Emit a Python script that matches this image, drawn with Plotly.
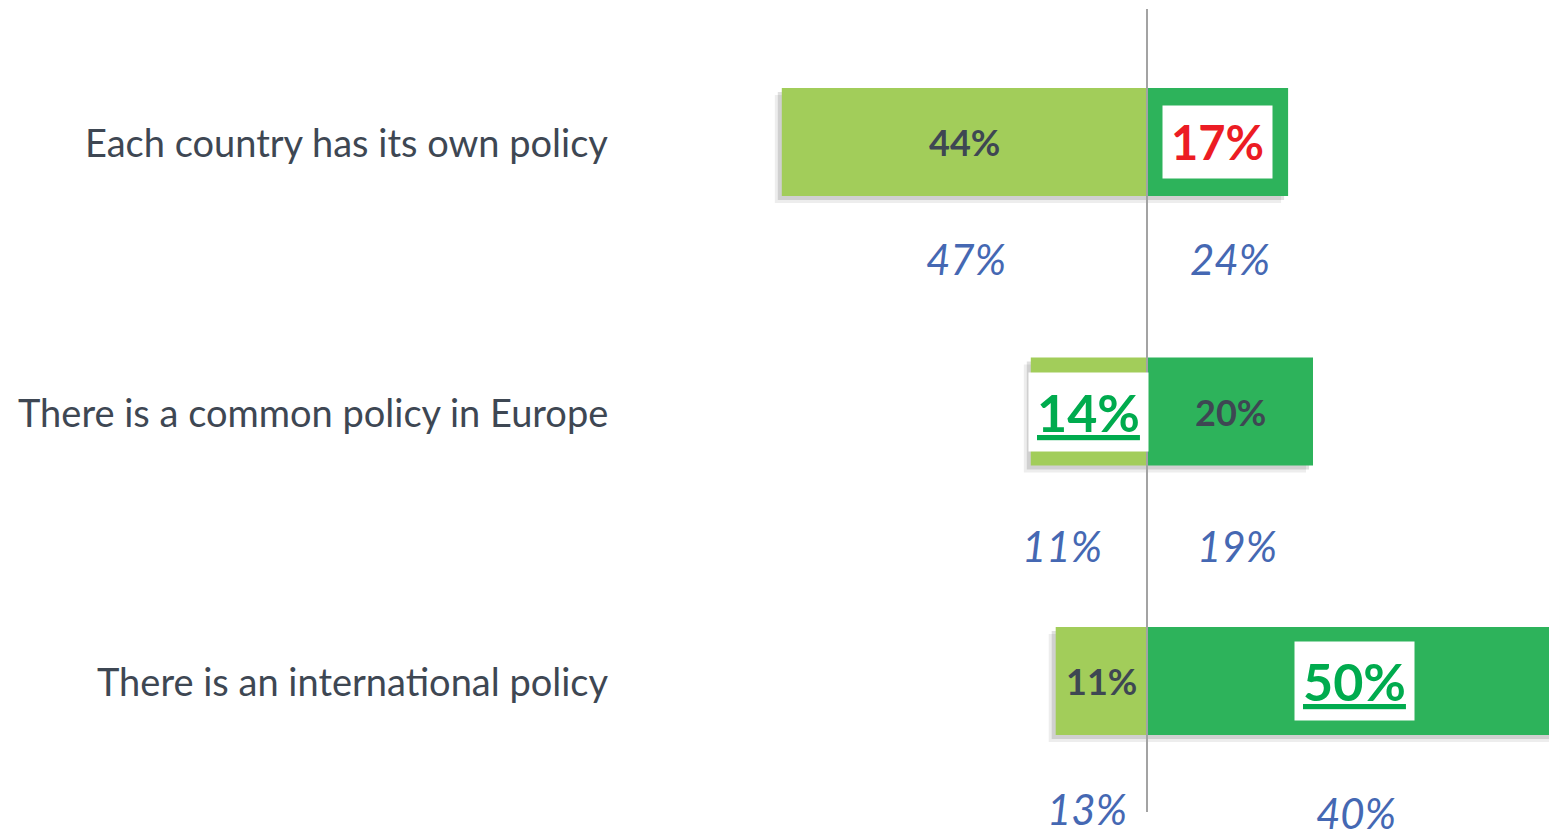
import plotly.graph_objects as go

categories = ["Each country has its own policy", "There is a common policy in Europe", "There is an international policy"]
left_values = [44, 14, 11]
right_values = [17, 20, 50]
prev_left = [47, 11, 13]
prev_right = [24, 19, 40]

LIGHT = "#A2CD5A"
DARK = "#2DB35B"
GREY_TXT = "#3E4753"
BLUE_TXT = "#4568B3"
RED_TXT = "#EC1C24"
GREEN_TXT = "#00AB4E"
FONT = "Lato"

PX_PER_PCT = 8.3
ROW_PX = 269.5
BAR_W = 0.4

ypos = list(range(len(categories)))

fig = go.Figure()
# soft drop shadow (two layers)
for dx, dy, a in ((7, 7, 0.07), (4, 4, 0.12)):
    fig.add_trace(go.Bar(
        y=ypos, x=[l + r for l, r in zip(left_values, right_values)],
        base=[-l - dx / PX_PER_PCT for l in left_values],
        orientation="h", width=BAR_W, offset=-BAR_W / 2 + dy / ROW_PX,
        marker=dict(color=f"rgba(0,0,0,{a})", line=dict(width=0)), hoverinfo="skip"))
fig.add_trace(go.Bar(y=ypos, x=[-v for v in left_values], orientation="h",
                     marker=dict(color=LIGHT, line=dict(width=0)), width=BAR_W,
                     hoverinfo="skip"))
fig.add_trace(go.Bar(y=ypos, x=right_values, orientation="h",
                     marker=dict(color=DARK, line=dict(width=0)), width=BAR_W,
                     hoverinfo="skip"))

ann = []
for i, c in enumerate(categories):
    ann.append(dict(x=610 / 1549, xref="paper", y=i, yref="y", text=c, showarrow=False,
                    xanchor="right", yanchor="middle",
                    font=dict(family=FONT, size=38, color=GREY_TXT)))

highlight = {(0, "R"): RED_TXT, (1, "L"): GREEN_TXT, (2, "R"): GREEN_TXT}

for i in range(len(categories)):
    for side, v in (("L", left_values[i]), ("R", right_values[i])):
        xc = -v / 2 if side == "L" else v / 2
        if (i, side) in highlight:
            col = highlight[(i, side)]
            underline = col == GREEN_TXT
            txt = f"<u><b>{v}%</b></u>" if underline else f"<b>{v}%</b>"
            ann.append(dict(x=xc, y=i, text=txt, showarrow=False, xanchor="center",
                            yanchor="middle", bgcolor="white", borderpad=8,
                            font=dict(family=FONT, size=52 if underline else 47, color=col)))
        else:
            ann.append(dict(x=xc, y=i, text=f"<b>{v}%</b>", showarrow=False,
                            xanchor="center", yanchor="middle",
                            font=dict(family=FONT, size=36, color=GREY_TXT)))

prev_shift_y = [-117, -134, -128]
prev_shift_xL = [2, -27, -14]
prev_shift_xR = [12, 7, 1]
for i in range(len(categories)):
    ann.append(dict(x=-left_values[i] / 2, y=i, text=f"<i>{prev_left[i]}%</i>", showarrow=False,
                    xanchor="center", yanchor="middle", yshift=prev_shift_y[i], xshift=prev_shift_xL[i],
                    font=dict(family=FONT, size=42, color=BLUE_TXT)))
    ann.append(dict(x=right_values[i] / 2, y=i, text=f"<i>{prev_right[i]}%</i>", showarrow=False,
                    xanchor="center", yanchor="middle", yshift=prev_shift_y[i] - (4 if i == 2 else 0),
                    xshift=prev_shift_xR[i],
                    font=dict(family=FONT, size=42, color=BLUE_TXT)))

fig.update_layout(
    width=1549, height=831,
    margin=dict(l=0, r=0, t=0, b=0),
    paper_bgcolor="white", plot_bgcolor="white",
    barmode="overlay", showlegend=False,
    xaxis=dict(range=[-1147 / PX_PER_PCT, (1549 - 1147) / PX_PER_PCT], visible=False, fixedrange=True),
    yaxis=dict(range=[(831 - 142) / ROW_PX, -142 / ROW_PX], visible=False, fixedrange=True),
    annotations=ann,
    shapes=[dict(type="line", xref="x", yref="paper", x0=0, x1=0,
                 y0=1 - 812 / 831, y1=1 - 9 / 831,
                 line=dict(color="#A3A3A3", width=2), layer="above")],
)

fig.write_html("out.html", config=dict(displayModeBar=False),
               post_script="document.body.style.margin='0';document.body.style.overflow='hidden';")
